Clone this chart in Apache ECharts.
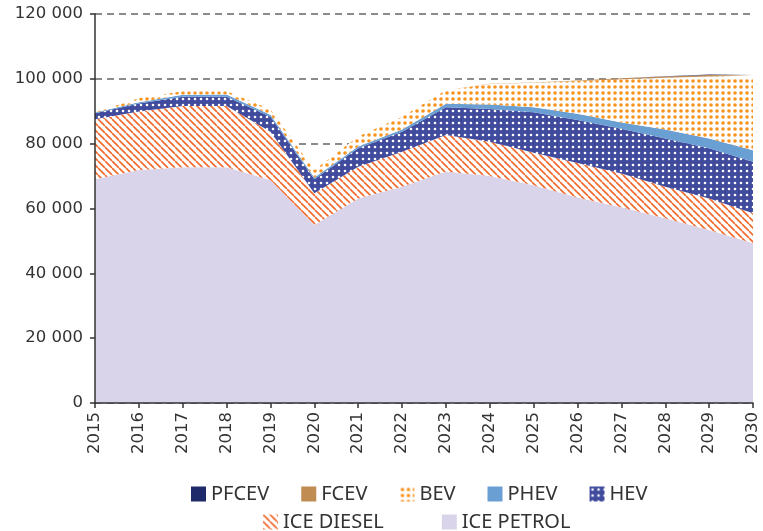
<!DOCTYPE html>
<html>
<head>
<meta charset="utf-8">
<script src="https://cdn.jsdelivr.net/npm/echarts@6/dist/echarts.min.js"></script>
<style>
html,body{margin:0;padding:0;background:#fff;}
#chart{width:763px;height:531px;}
</style>
</head>
<body>
<div id="chart"></div>
<script>
// ---- Data ----
const years = ['2015','2016','2017','2018','2019','2020','2021','2022','2023','2024','2025','2026','2027','2028','2029','2030'];
const icePetrol = [69000, 71900, 72700, 72700, 68800, 54900, 63100, 66700, 71400, 70000, 67200, 63400, 60400, 57000, 53400, 49300];
const iceDiesel = [18500, 18000, 18900, 18900, 14900, 9800, 9800, 10800, 11300, 10600, 10000, 10600, 10400, 9700, 9700, 9200];
const hev = [1900, 2500, 2900, 2900, 4600, 4300, 5700, 6200, 8500, 10100, 12500, 13300, 13800, 14900, 15500, 15900];
const phev = [200, 400, 600, 700, 600, 600, 500, 700, 1100, 1400, 1500, 1900, 1900, 2800, 3000, 3600];
const bev = [100, 1200, 1100, 1000, 1700, 2300, 3100, 3900, 4200, 6300, 7600, 10100, 13400, 15900, 19100, 22500];
const fcev = [0, 0, 0, 0, 0, 0, 0, 0, 0, 50, 100, 200, 300, 400, 500, 500];
const pfcev = [0, 0, 0, 0, 0, 0, 0, 0, 0, 0, 0, 0, 0, 100, 150, 150];
const yTicks = [0, 20000, 40000, 60000, 80000, 100000, 120000];

// ---- Patterns ----
function dotPattern(bg, dot, r, step) {
  const c = document.createElement('canvas');
  c.width = step; c.height = step;
  const g = c.getContext('2d');
  g.fillStyle = bg; g.fillRect(0, 0, step, step);
  g.fillStyle = dot;
  g.beginPath(); g.arc(step / 2, step / 2, r, 0, Math.PI * 2); g.fill();
  return { image: c, repeat: 'repeat' };
}
function stripePattern(bg, fg, s, w) {
  const c = document.createElement('canvas');
  c.width = s; c.height = s;
  const g = c.getContext('2d');
  g.fillStyle = bg; g.fillRect(0, 0, s, s);
  g.strokeStyle = fg; g.lineWidth = w;
  for (let k = -1; k <= 1; k++) {
    g.beginPath(); g.moveTo(0, k * s); g.lineTo(s, k * s + s); g.stroke();
  }
  return { image: c, repeat: 'repeat' };
}

const colPetrol = '#d9d4ea';
const colDiesel = stripePattern('#ffffff', '#f26a2e', 7, 1.7);
const colHev = dotPattern('#404b9e', '#ffffff', 1.3, 6);
const colPhev = '#6a9fd4';
const colBev = dotPattern('#ffffff', '#f7931e', 1.8, 6);
const colFcev = '#c08c52';
const colPfcev = '#1f2a6b';

function fmt(v) { return String(v).replace(/\B(?=(\d{3})+(?!\d))/g, ' '); }

function mk(name, data, color) {
  return {
    name: name, type: 'line', stack: 'total', data: data,
    symbol: 'none', showSymbol: false,
    color: color,
    lineStyle: { width: 0 },
    areaStyle: { opacity: 1, color: color },
    emphasis: { disabled: true }
  };
}

const chart = echarts.init(document.getElementById('chart'));
const axisColor = '#333';
const option = {
  animation: false,
  grid: { left: 95, right: 10, top: 14, bottom: 128 },
  xAxis: {
    type: 'category', data: years, boundaryGap: false, z: 10,
    axisLine: { lineStyle: { color: axisColor, width: 1.5 } },
    axisTick: { show: true, length: 5, lineStyle: { color: axisColor, width: 1.5 } },
    axisLabel: { rotate: 90, interval: 0, margin: 9, fontFamily: 'DejaVu Sans', fontSize: 16.5, color: axisColor }
  },
  yAxis: [
    {
      type: 'value', min: yTicks[0], max: yTicks[yTicks.length - 1], interval: 20000,
      axisLine: { show: false }, axisTick: { show: false }, axisLabel: { show: false },
      splitLine: { show: true, lineStyle: { color: '#666', width: 1.5, type: [7, 5] } }
    },
    {
      type: 'value', position: 'left', offset: 0, z: 10,
      min: yTicks[0], max: yTicks[yTicks.length - 1], interval: 20000,
      axisLine: { show: true, lineStyle: { color: axisColor, width: 1.5 } },
      axisTick: { show: true, length: 5, lineStyle: { color: axisColor, width: 1.5 } },
      axisLabel: { formatter: fmt, margin: 12, fontFamily: 'DejaVu Sans', fontSize: 16.5, color: axisColor },
      splitLine: { show: false }
    }
  ],
  legend: [
    {
      data: ['PFCEV', 'FCEV', 'BEV', 'PHEV', 'HEV'],
      left: 191, top: 484, padding: 0, itemGap: 32,
      icon: 'rect', itemWidth: 15, itemHeight: 15, selectedMode: false,
      itemStyle: { borderWidth: 0 },
      textStyle: { fontFamily: 'Noto Sans', fontSize: 20, color: axisColor }
    },
    {
      data: ['ICE DIESEL', 'ICE PETROL'],
      left: 263, top: 512, padding: 0, itemGap: 58,
      icon: 'rect', itemWidth: 15, itemHeight: 15, selectedMode: false,
      itemStyle: { borderWidth: 0 },
      textStyle: { fontFamily: 'Noto Sans', fontSize: 20, color: axisColor }
    }
  ],
  series: [
    mk('ICE PETROL', icePetrol, colPetrol),
    mk('ICE DIESEL', iceDiesel, colDiesel),
    mk('HEV', hev, colHev),
    mk('PHEV', phev, colPhev),
    mk('BEV', bev, colBev),
    mk('FCEV', fcev, colFcev),
    mk('PFCEV', pfcev, colPfcev)
  ]
};
chart.setOption(option);
</script>
</body>
</html>
